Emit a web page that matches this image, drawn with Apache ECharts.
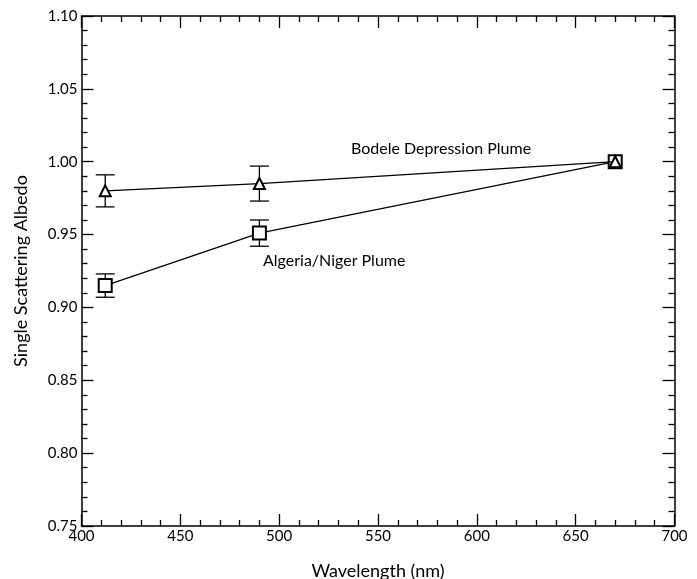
<!DOCTYPE html>
<html><head><meta charset="utf-8">
<script src="https://cdn.jsdelivr.net/npm/echarts@6/dist/echarts.min.js"></script>
<style>html,body{margin:0;padding:0;background:#fff}#c{width:697px;height:579px}</style>
</head><body><div id="c"></div>
<script>
const wavelengths = [412, 490, 670];
const bodeleValues = [0.980, 0.985, 1.000];
const bodeleErrors = [0.011, 0.012, 0];
const algeriaValues = [0.915, 0.951, 1.000];
const algeriaErrors = [0.008, 0.009, 0];
const xTicks = [400, 450, 500, 550, 600, 650, 700];
const yTicks = [0.75, 0.80, 0.85, 0.90, 0.95, 1.00, 1.05, 1.10];

const FONT = 'Lato';
const chart = echarts.init(document.getElementById('c'), null, {renderer: 'canvas'});

function errData(vals, errs) {
  return wavelengths.map((w, i) => [w, vals[i] - errs[i], vals[i] + errs[i]]).filter((d, i) => errs[i] > 0);
}
function errSeries(vals, errs) {
  return {
    type: 'custom', xAxisIndex: 0, yAxisIndex: 0, z: 3,
    data: errData(vals, errs),
    renderItem: function (params, api) {
      const lo = api.coord([api.value(0), api.value(1)]);
      const hi = api.coord([api.value(0), api.value(2)]);
      const hw = 9.5;
      const st = {stroke: '#000', lineWidth: 1.3};
      return {type: 'group', children: [
        {type: 'line', shape: {x1: lo[0], y1: lo[1], x2: hi[0], y2: hi[1]}, style: st},
        {type: 'line', shape: {x1: lo[0] - hw, y1: lo[1], x2: lo[0] + hw, y2: lo[1]}, style: st},
        {type: 'line', shape: {x1: hi[0] - hw, y1: hi[1], x2: hi[0] + hw, y2: hi[1]}, style: st}
      ]};
    }
  };
}
const axisCommon = {
  axisLine: {show: true, onZero: false, lineStyle: {color: '#000', width: 1.5}},
  axisTick: {show: true, inside: true, length: 12, lineStyle: {color: '#000', width: 1.3}},
  minorTick: {show: true, splitNumber: 5, length: 6, lineStyle: {color: '#000', width: 1.3}},
  splitLine: {show: false}
};
chart.setOption({
  animation: false,
  grid: {left: 81.5, right: 22.5, top: 16, bottom: 53, containLabel: false, outerBoundsMode: 'none'},
  xAxis: [
    Object.assign({type: 'value', min: xTicks[0], max: xTicks[xTicks.length - 1], interval: 50, position: 'bottom',
      name: 'Wavelength (nm)', nameLocation: 'middle', nameGap: 36,
      nameTextStyle: {fontFamily: FONT, fontSize: 18, color: '#000'},
      axisLabel: {fontFamily: FONT, fontSize: 15, color: '#000', margin: 3}}, axisCommon),
    Object.assign({type: 'value', min: xTicks[0], max: xTicks[xTicks.length - 1], interval: 50, position: 'top',
      axisLabel: {show: false}}, axisCommon)
  ],
  yAxis: [
    Object.assign({type: 'value', min: yTicks[0], max: yTicks[yTicks.length - 1], interval: 0.05, position: 'left',
      name: 'Single Scattering Albedo', nameLocation: 'middle', nameGap: 51,
      nameTextStyle: {fontFamily: FONT, fontSize: 18, color: '#000'},
      axisLabel: {fontFamily: FONT, fontSize: 15, color: '#000', margin: 4, formatter: v => v.toFixed(2)}}, axisCommon),
    Object.assign({type: 'value', min: yTicks[0], max: yTicks[yTicks.length - 1], interval: 0.05, position: 'right',
      axisLabel: {show: false}}, axisCommon)
  ],
  series: [
    {type: 'line', data: wavelengths.map((w, i) => [w, algeriaValues[i]]), symbol: 'emptyRect', symbolSize: 13,
      lineStyle: {color: '#000', width: 1.3}, itemStyle: {color: '#000', borderWidth: 1.3}, z: 4},
    {type: 'line', data: wavelengths.map((w, i) => [w, bodeleValues[i]]), symbol: 'emptyTriangle', symbolSize: 11,
      lineStyle: {color: '#000', width: 1.3}, itemStyle: {color: '#000', borderWidth: 1.3}, z: 5},
    errSeries(bodeleValues, bodeleErrors),
    errSeries(algeriaValues, algeriaErrors)
  ],
  graphic: [
    {type: 'text', left: 351, top: 141, style: {text: 'Bodele Depression Plume', font: '16px ' + FONT, fill: '#000'}},
    {type: 'text', left: 263, top: 253, style: {text: 'Algeria/Niger Plume', font: '16px ' + FONT, fill: '#000'}}
  ]
});
</script></body></html>
